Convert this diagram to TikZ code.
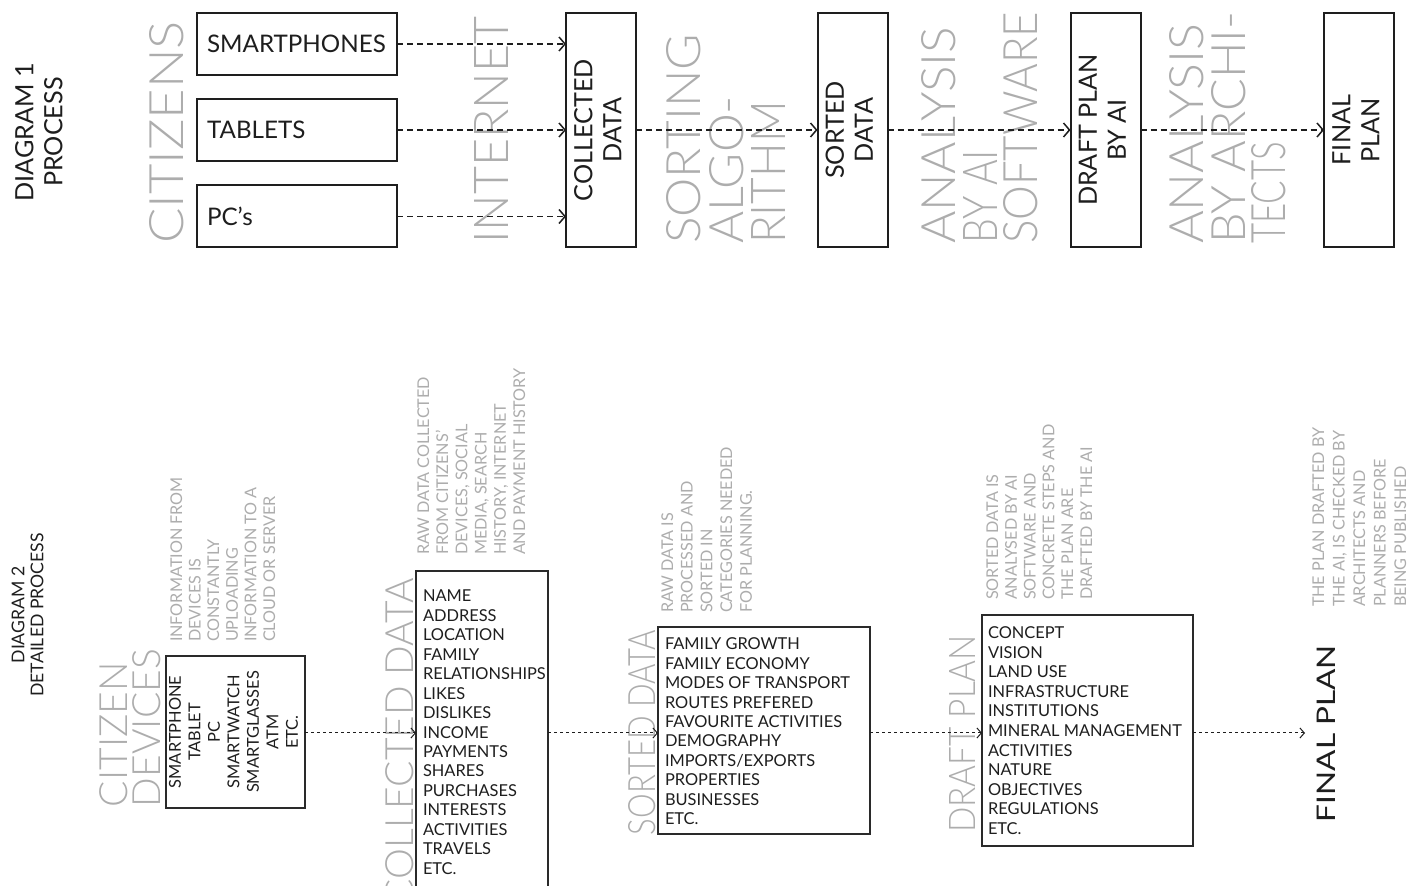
\documentclass[tikz,border=0pt]{standalone}
\usepackage{fontspec}
\usepackage{graphicx}
\setmainfont{Lato}
\IfFontExistsTF{Lato Light}{\newfontfamily\lightfont{Lato Light}}{\newfontfamily\lightfont{Lato}}
\usetikzlibrary{arrows.meta}
\definecolor{ink}{HTML}{1E1E1E}
\definecolor{faint}{HTML}{ADADAD}
\definecolor{frame}{HTML}{2A2A2A}

% caption line stretched to a given length at a fixed cap height
\newcommand{\capline}[3]{\resizebox{#1}{#2}{#3}}

\tikzset{
  every node/.style={inner sep=0pt, outer sep=0pt, text=ink},
  headT/.style={font=\fontsize{12.6}{14.5}\selectfont},
  devbox/.style={draw=ink, line width=1pt, minimum width=100pt, minimum height=31pt, font=\fontsize{12.1}{14}\selectfont},
  procbox/.style={draw=ink, line width=1pt, minimum width=35pt, minimum height=117pt, headT},
  bigT/.style={rotate=90, anchor=base west, text=faint, font=\lightfont\fontsize{24}{24}\selectfont},
  bigB/.style={rotate=90, anchor=base west, text=faint, font=\lightfont\fontsize{19.5}{19.5}\selectfont},
  desc/.style={rotate=90, anchor=base west, text=faint, font=\fontsize{8.1}{9}\selectfont},
  item/.style={anchor=base west, font=\fontsize{8.2}{9.75}\selectfont},
  listbox/.style={draw=frame, line width=0.75pt},
  flowT/.style={draw=ink, line width=0.75pt, dash pattern=on 3pt off 2pt,
    -{Straight Barb[length=3pt, width=7pt, line width=0.75pt]}},
  flowB/.style={draw=ink, line width=0.5pt, dash pattern=on 1.6pt off 1.4pt,
    -{Straight Barb[length=2.2pt, width=5pt, line width=0.5pt]}},
}

\begin{document}
\begin{tikzpicture}[x=0.5pt,y=-0.5pt]
\useasboundingbox[fill=white] (0,0) rectangle (1413,886);

% ---------------- Diagram 1: process ----------------
\node[headT, rotate=90] (d1) at (42,132) {\begin{tabular}{@{}c@{}}DIAGRAM 1\\PROCESS\end{tabular}};

% stage captions
\node[bigT] (cz) at (183,244) {\capline{111.5pt}{17pt}{CITIZENS}};
\node[bigT] (net) at (508,244) {\capline{113.5pt}{17pt}{INTERNET}};
\node[bigT] (so1) at (700,244) {\capline{105pt}{17pt}{SORTING}};
\node[bigT] (so2) at (743,244) {\capline{74pt}{17pt}{ALGO-}};
\node[bigT] (so3) at (785,244) {\capline{71.5pt}{17pt}{RITHM}};
\node[bigT] (an1) at (955,244) {\capline{108.5pt}{17pt}{ANALYSIS}};
\node[bigT] (an2) at (997,244) {\capline{47pt}{17pt}{BY AI}};
\node[bigT] (an3) at (1037,244) {\capline{116pt}{17pt}{SOFTWARE}};
\node[bigT] (ar1) at (1203,244) {\capline{110pt}{17pt}{ANALYSIS}};
\node[bigT] (ar2) at (1245,244) {\capline{116pt}{17pt}{BY ARCHI-}};
\node[bigT] (ar3) at (1285,244) {\capline{51pt}{17pt}{TECTS}};

% devices
\node[devbox] (sp) at (297,44) {\makebox[90pt][l]{SMARTPHONES}};
\node[devbox] (tb) at (297,130) {\makebox[90pt][l]{TABLETS}};
\node[devbox] (pc) at (297,216.5) {\makebox[90pt][l]{PC’s}};

% process stages
\node[procbox] (col) at (601,130) {\rotatebox{90}{\begin{tabular}{@{}c@{}}COLLECTED\\DATA\end{tabular}}};
\node[procbox] (srt) at (852.5,130) {\rotatebox{90}{\begin{tabular}{@{}c@{}}SORTED\\DATA\end{tabular}}};
\node[procbox] (drf) at (1105.5,130) {\rotatebox{90}{\begin{tabular}{@{}c@{}}DRAFT PLAN\\BY AI\end{tabular}}};
\node[procbox] (fin) at (1359,130) {\rotatebox{90}{\begin{tabular}{@{}c@{}}FINAL\\PLAN\end{tabular}}};

\draw[flowT] (sp.east) -- (sp.east -| col.west);
\draw[flowT] (tb.east) -- (tb.east -| col.west);
\draw[flowT] (pc.east) -- (pc.east -| col.west);
\draw[flowT] (col) -- (srt);
\draw[flowT] (srt) -- (drf);
\draw[flowT] (drf) -- (fin);

% ---------------- Diagram 2: detailed process ----------------
\node[rotate=90, font=\fontsize{8.8}{9.5}\selectfont] (d2) at (30,615) {\begin{tabular}{@{}c@{}}DIAGRAM 2\\DETAILED PROCESS\end{tabular}};

% captions
\node[bigB] (cd1) at (127,807) {CITIZEN};
\node[bigB] (cd2) at (160,807) {DEVICES};
\node[bigB, anchor=base east] (clt) at (413,578) {COLLECTED DATA};
\node[bigB] (sdt) at (655,835) {\capline{102.5pt}{13.5pt}{SORTED DATA}};
\node[bigB] (dpt) at (975,833) {\capline{99pt}{13pt}{DRAFT PLAN}};
\node[rotate=90, anchor=base west, font=\fontsize{15}{15}\selectfont] (fp) at (1335,822) {\capline{88.5pt}{9.2pt}{FINAL PLAN}};

% explanatory notes
\foreach \t [count=\i from 0] in {INFORMATION FROM, DEVICES IS, CONSTANTLY, UPLOADING, INFORMATION TO A, CLOUD OR SERVER}
  \node[desc] (cdn\i) at ({182+18.6*\i},642) {\t};
\foreach \t [count=\i from 0] in {RAW DATA COLLECTED, FROM CITIZENS’, {DEVICES, SOCIAL}, {MEDIA, SEARCH}, {HISTORY, INTERNET}, AND PAYMENT HISTORY}
  \node[desc] (cln\i) at ({429+19.2*\i},555) {\t};
\foreach \t [count=\i from 0] in {RAW DATA IS, PROCESSED AND, SORTED IN, CATEGORIES NEEDED, FOR PLANNING.}
  \node[desc] (sdn\i) at ({673+19.7*\i},613) {\t};
\foreach \t [count=\i from 0] in {SORTED DATA IS, ANALYSED BY AI, SOFTWARE AND, CONCRETE STEPS AND, THE PLAN ARE, DRAFTED BY THE AI}
  \node[desc] (dpn\i) at ({998+18.8*\i},600) {\t};
\foreach \t [count=\i from 0] in {THE PLAN DRAFTED BY, {THE AI, IS CHECKED BY}, ARCHITECTS AND, PLANNERS BEFORE, BEING PUBLISHED}
  \node[desc] (fpn\i) at ({1324+20.5*\i},607) {\t};

% boxes
\node[listbox, minimum width=69.5pt, minimum height=76pt, font=\fontsize{8.2}{9.75}\selectfont] (cd) at (235.5,732)
  {\rotatebox{90}{\begin{tabular}{@{}c@{}}SMARTPHONE\\TABLET\\PC\\SMARTWATCH\\SMARTGLASSES\\ATM\\ETC.\end{tabular}}};
\node[listbox, minimum width=66pt, minimum height=162pt] (cl) at (482,733) {};
\node[listbox, minimum width=106pt, minimum height=103.5pt] (sd) at (764,730.5) {};
\node[listbox, minimum width=105.5pt, minimum height=115.5pt] (dp) at (1087.5,730.5) {};

\foreach \t [count=\i from 0] in {NAME, ADDRESS, LOCATION, FAMILY, RELATIONSHIPS, LIKES, DISLIKES, INCOME, PAYMENTS, SHARES, PURCHASES, INTERESTS, ACTIVITIES, TRAVELS, ETC.}
  \node[item] (cli\i) at (423,{602+19.43*\i}) {\t};
\foreach \t [count=\i from 0] in {FAMILY GROWTH, FAMILY ECONOMY, MODES OF TRANSPORT, ROUTES PREFERED, FAVOURITE ACTIVITIES, DEMOGRAPHY, IMPORTS/EXPORTS, PROPERTIES, BUSINESSES, ETC.}
  \node[item] (sdi\i) at (665,{650+19.4*\i}) {\t};
\foreach \t [count=\i from 0] in {CONCEPT, VISION, LAND USE, INFRASTRUCTURE, INSTITUTIONS, MINERAL MANAGEMENT, ACTIVITIES, NATURE, OBJECTIVES, REGULATIONS, ETC.}
  \node[item] (dpi\i) at (988,{639+19.5*\i}) {\t};

% connectors
\coordinate (ax) at (0,733);
\coordinate (fpin) at (1305,733);
\draw[flowB] (cd.east |- ax) -- (cl.west |- ax);
\draw[flowB] (cl.east |- ax) -- (sd.west |- ax);
\draw[flowB] (sd.east |- ax) -- (dp.west |- ax);
\draw[flowB] (dp.east |- ax) -- (fpin);
\end{tikzpicture}
\end{document}
